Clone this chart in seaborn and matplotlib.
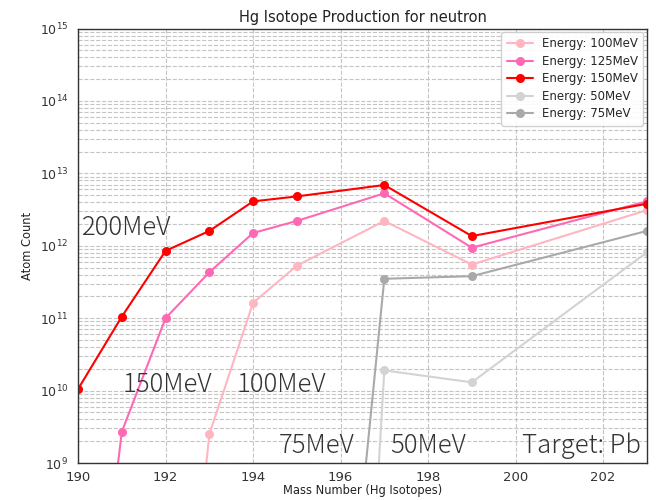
import numpy as np
import pandas as pd
import matplotlib
matplotlib.use("Agg")
import matplotlib.pyplot as plt
from matplotlib.ticker import NullFormatter
import seaborn as sns

# Hg isotope yields (atom count) per beam energy
mass_150 = [190, 191, 192, 193, 194, 195, 197, 199, 203]
count_150 = [1.05e10, 1.05e11, 8.5e11, 1.6e12, 4.1e12, 4.8e12, 6.9e12, 1.36e12, 3.8e12]

mass_125 = [190, 191, 192, 193, 194, 195, 197, 199, 203]
count_125 = [2.5e4, 2.7e9, 1.0e11, 4.3e11, 1.5e12, 2.2e12, 5.3e12, 9.4e11, 4.1e12]

mass_100 = [192, 193, 194, 195, 197, 199, 203]
count_100 = [3e3, 2.5e9, 1.63e11, 5.3e11, 2.2e12, 5.5e11, 3.1e12]

mass_75 = [196, 197, 199, 203]
count_75 = [3e5, 3.5e11, 3.8e11, 1.6e12]

mass_50 = [196, 197, 199, 203]
count_50 = [1.0, 1.9e10, 1.3e10, 8.1e11]

series = {
    "Energy: 100MeV": (mass_100, count_100),
    "Energy: 125MeV": (mass_125, count_125),
    "Energy: 150MeV": (mass_150, count_150),
    "Energy: 50MeV": (mass_50, count_50),
    "Energy: 75MeV": (mass_75, count_75),
}
palette = {
    "Energy: 100MeV": "lightpink",
    "Energy: 125MeV": "hotpink",
    "Energy: 150MeV": "red",
    "Energy: 50MeV": "lightgray",
    "Energy: 75MeV": "darkgray",
}

frames = []
for name, (m, c) in series.items():
    frames.append(pd.DataFrame({"mass": m, "count": c, "energy": name}))
df = pd.concat(frames, ignore_index=True)

sns.set_style("white")
plt.rcParams["font.family"] = ["DejaVu Sans"]

fig = plt.figure(figsize=(6.56, 5.0), dpi=100)
ax = fig.add_axes([0.119, 0.074, 0.867, 0.869])
ax.set_yscale("log")

sns.lineplot(data=df, x="mass", y="count", hue="energy", palette=palette,
             hue_order=list(series.keys()), marker="o", markersize=6.5,
             markeredgewidth=0, linewidth=1.5, ax=ax, legend=True, sort=True)

ax.set_xlim(190, 203)
ax.set_ylim(1e9, 1e15)
ax.set_xticks([190, 192, 194, 196, 198, 200, 202])
ax.yaxis.set_minor_formatter(NullFormatter())
ax.grid(True, which="major", axis="x", linestyle="--", color="#c4c4c4", linewidth=0.8)
ax.grid(True, which="both", axis="y", linestyle="--", color="#c4c4c4", linewidth=0.8)
ax.tick_params(axis="x", which="major", labelsize=9.5, colors="#333333", length=3.5, pad=2)
ax.tick_params(axis="y", which="major", labelsize=9, colors="#333333", length=3.5)
ax.tick_params(axis="y", which="minor", length=2, colors="#333333")
for sp in ax.spines.values():
    sp.set_color("#333333")
    sp.set_linewidth(1.0)

ax.set_title("Hg Isotope Production for neutron", fontsize=10.5, color="#222222", pad=5)
ax.set_xlabel("Mass Number (Hg Isotopes)", fontsize=8.3, color="#222222", labelpad=0)
ax.set_ylabel("Atom Count", fontsize=8.3, color="#222222")

leg = ax.legend(loc="upper right", fontsize=8.5, frameon=True, fancybox=True,
                framealpha=0.9, borderpad=0.45, handlelength=2.2,
                labelspacing=0.38, borderaxespad=0.3)
leg.get_frame().set_edgecolor("#cccccc")

# Energy labels next to each curve
lab_font = dict(family=["Noto Sans CJK JP", "DejaVu Sans"], fontsize=18.5,
                fontweight="light", color="#333333", ha="left", va="center")
ax.text(190.1, 10**12.25, "200MeV", **lab_font)
ax.text(191.02, 10**10.08, "150MeV", **lab_font)
ax.text(193.62, 10**10.08, "100MeV", **lab_font)
ax.text(194.58, 10**9.235, "75MeV", **lab_font)
ax.text(197.13, 10**9.235, "50MeV", **lab_font)
ax.text(200.14, 10**9.235, "Target: Pb", **lab_font)

fig.savefig("out.png", dpi=100)
